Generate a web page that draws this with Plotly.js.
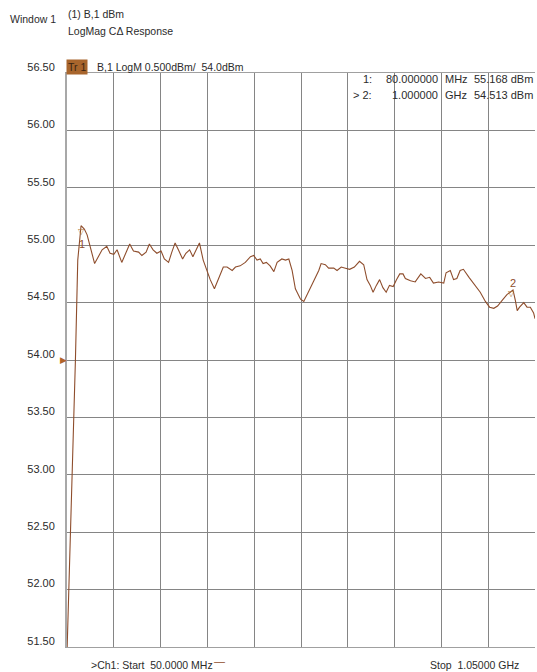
<!DOCTYPE html>
<html>
<head>
<meta charset="utf-8">
<script src="https://cdn.plot.ly/plotly-3.0.1.min.js"></script>
<style>html,body{margin:0;padding:0;background:#fff;}#chart{width:537px;height:672px;}</style>
</head>
<body>
<div id="chart"></div>
<script>
// ---- data ----
const freqMHz = [50,60,68,73,80,87,93,109,117,125,135,142,150,157,167,176,184,192,203,210,219,226,234,242,251,258,267,274,281,288,297,304,312,319,326,333,341,349,356,365,374,384,392,403,410,420,431,442,449,456,463,469,476,484,492,499,509,517,524,531,538,549,556,563,570,577,584,588,593,602,609,620,627,636,645,654,664,675,684,691,698,704,711,718,725,732,739,747,754,761,768,773,784,794,806,816,825,833,844,855,860,869,876,883,890,897,909,922,933,944,953,962,970,982,990,997,1003,1008,1012,1017,1026,1033,1040,1047,1050];
const levelDbm = [51.45,52.80,54.00,54.87,55.17,55.14,55.09,54.84,54.90,54.96,54.99,54.93,54.92,54.96,54.85,54.93,55.01,54.95,54.94,54.91,54.94,55.01,54.96,54.93,54.95,54.88,54.85,54.94,55.02,54.96,54.88,54.93,54.96,54.90,54.96,55.02,54.87,54.77,54.70,54.62,54.71,54.81,54.81,54.78,54.81,54.82,54.85,54.90,54.91,54.87,54.88,54.84,54.85,54.82,54.77,54.85,54.88,54.87,54.88,54.78,54.62,54.53,54.51,54.57,54.64,54.70,54.75,54.78,54.84,54.83,54.80,54.80,54.78,54.81,54.80,54.79,54.81,54.86,54.83,54.70,54.65,54.59,54.65,54.70,54.63,54.59,54.65,54.64,54.70,54.75,54.75,54.71,54.69,54.68,54.75,54.71,54.72,54.67,54.68,54.67,54.76,54.78,54.70,54.71,54.78,54.79,54.72,54.65,54.59,54.51,54.46,54.45,54.47,54.53,54.57,54.59,54.61,54.52,54.43,54.46,54.50,54.46,54.46,54.41,54.36];
const yTicks = [51.5,52.0,52.5,53.0,53.5,54.0,54.5,55.0,55.5,56.0,56.5];
const xTicks = [50,150,250,350,450,550,650,750,850,950,1050];
const markerIds = ["1","2"];
const markerFreqMHz = [80, 1000];
const markerFreqText = ["80.000000","1.000000"];
const markerUnit = ["MHz","GHz"];
const markerReadout = ["55.168 dBm","54.513 dBm"];
const refLevel = 54.0;

// ---- layout helpers ----
const L = 66.7, R = 535, T = 72.5, B = 647;
const px = x => (x - L) / (R - L);
const py = y => (B - y) / (B - T);
const brown = '#8e4d2c';
const txt = '#2b2b2b';
const font = 'Liberation Sans, Arial, sans-serif';

function interp(f){
  for (let i=0;i<freqMHz.length-1;i++){
    if (f>=freqMHz[i] && f<=freqMHz[i+1]){
      const t=(f-freqMHz[i])/(freqMHz[i+1]-freqMHz[i]);
      return levelDbm[i]+t*(levelDbm[i+1]-levelDbm[i]);
    }
  }
  return levelDbm[levelDbm.length-1];
}

const trace = {
  x: freqMHz, y: levelDbm, type: 'scatter', mode: 'lines',
  line: {color: brown, width: 1.1}, hoverinfo: 'skip'
};

const ann = [];
function t(text, x, y, opts){
  ann.push(Object.assign({text: text, xref:'paper', yref:'paper', x: px(x), y: py(y),
    showarrow:false, xanchor:'left', yanchor:'middle',
    font:{family:font, size:10.5, color:txt}}, opts||{}));
}
t('Window 1', 8, 18);
t('(1) B,1 dBm', 66, 13);
t('LogMag C\u0394 Response', 66, 30);
t('Tr 1', 66, 66, {bgcolor:'#a8652c', font:{family:font,size:10.5,color:'#3a2412'}, borderpad:1});
t('B,1 LogM 0.500dBm/  54.0dBm', 95, 66);
// marker table
const rowY = [79, 95];
for (let i=0;i<markerIds.length;i++){
  t((i===1?'> ':'') + markerIds[i] + ':', 374, rowY[i], {xanchor:'right', font:{family:font,size:11,color:txt}});
  t(markerFreqText[i], 440, rowY[i], {xanchor:'right', font:{family:font,size:11,color:txt}});
  t(markerUnit[i], 443, rowY[i], {font:{family:font,size:11,color:txt}});
  t(markerReadout[i], 535, rowY[i], {xanchor:'right', font:{family:font,size:11,color:txt}});
}
// bottom
t('>Ch1: Start  50.0000 MHz', 89, 665);
t('\u2014', 212, 661, {font:{family:font,size:11,color:brown}});
t('Stop  1.05000 GHz', 521, 665, {xanchor:'right'});
// reference level pointer
ann.push({text:'\u25B6', xref:'paper', yref:'y', x:0, y:refLevel, xanchor:'right', yanchor:'middle',
  showarrow:false, xshift:2, font:{family:'DejaVu Sans', size:9, color:'#b0642a'}});
// markers on trace
for (let i=0;i<markerIds.length;i++){
  const v = interp(markerFreqMHz[i]);
  const below = (i===0);
  ann.push({text:'\u25BD', xref:'x', yref:'y', x:markerFreqMHz[i], y:v, showarrow:false,
    xanchor:'center', yanchor:'middle', yshift: below? -6 : -2, font:{family:'DejaVu Sans', size:8, color:'#b07a3a'}});
  ann.push({text:markerIds[i], xref:'x', yref:'y', x:markerFreqMHz[i], y:v, showarrow:false,
    xanchor:'center', yanchor:'middle', xshift: 1, yshift: below? -18 : 8, font:{family:font, size:11, color:brown}});
}

const layout = {
  width: 537, height: 672,
  margin: {l: L, r: 537 - R, t: T, b: 672 - B, pad: 0},
  paper_bgcolor: '#fff', plot_bgcolor: '#fff',
  showlegend: false,
  xaxis: {range:[50,1050], tickmode:'array', tickvals:xTicks, showticklabels:false, ticks:'',
    showgrid:true, gridcolor:'#858585', gridwidth:1, zeroline:false,
    showline:true, linecolor:'#a0a0a0', linewidth:1, mirror:true},
  yaxis: {range:[51.5,56.5], tickmode:'array', tickvals:yTicks, ticktext:yTicks.map(v=>v.toFixed(2)),
    ticks:'', ticklabelstandoff:8, ticklabelshift:-6,
    tickfont:{family:font, size:11, color:txt},
    showgrid:true, gridcolor:'#858585', gridwidth:1, zeroline:false,
    showline:true, linecolor:'#a8a8a8', linewidth:2, mirror:false},
  annotations: ann
};

Plotly.newPlot('chart', [trace], layout, {displayModeBar:false, staticPlot:true});
</script>
</body>
</html>
